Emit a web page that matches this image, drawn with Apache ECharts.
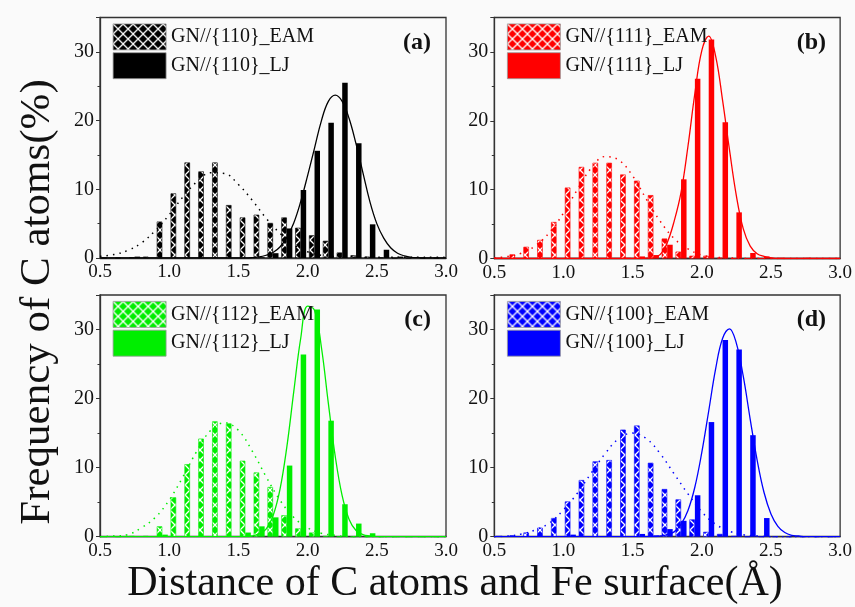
<!DOCTYPE html>
<html>
<head>
<meta charset="utf-8">
<script src="https://cdn.jsdelivr.net/npm/echarts@6/dist/echarts.min.js"></script>
<style>
html, body { margin: 0; padding: 0; background: #fafafa; }
#main { width: 855px; height: 607px; }
</style>
</head>
<body>
<div id="main"></div>
<script>
// histogram bins (centres, bin width 0.1)
var binCenters = [0.55, 0.65, 0.75, 0.85, 0.95, 1.05, 1.15, 1.25, 1.35, 1.45, 1.55, 1.65, 1.75,
                  1.85, 1.95, 2.05, 2.15, 2.25, 2.35, 2.45, 2.55, 2.65, 2.75, 2.85, 2.95];

var eam110 = [0, 0, 0.1, 0.2, 5.3, 9.4, 13.9, 12.6, 13.9, 7.7, 5.9, 6.3, 5.1, 5.9, 4.4, 3.3, 2.5, 0.8, 0.4, 0.2, 0.1, 0, 0, 0, 0];
var lj110  = [0, 0, 0.2, 0, 0, 0, 0, 0, 0, 0, 0, 0.1, 0.7, 4.3, 9.9, 15.6, 19.7, 25.5, 16.7, 4.9, 1.2, 0.2, 0.1, 0, 0];
var eam111 = [0.1, 0.6, 1.7, 2.7, 5.3, 10.3, 13.3, 13.9, 13.9, 12.2, 11.3, 9.2, 2.9, 1.0, 0.4, 0.4, 0.1, 0, 0, 0, 0, 0, 0, 0, 0];
var lj111  = [0, 0, 0, 0, 0, 0, 0, 0, 0, 0.1, 0.3, 0.5, 2.0, 11.5, 26.1, 31.8, 19.8, 6.7, 0.8, 0.3, 0.1, 0, 0.1, 0, 0];
var eam112 = [0, 0, 0.1, 0.1, 1.5, 5.7, 10.5, 14.2, 16.7, 16.4, 11.0, 9.3, 7.2, 3.1, 1.2, 0.6, 0.1, 0, 0, 0, 0, 0, 0, 0, 0];
var lj112  = [0, 0, 0, 0, 0.3, 0, 0, 0, 0, 0, 0.6, 1.5, 2.8, 10.3, 26.4, 32.9, 16.8, 4.7, 1.9, 0.5, 0.1, 0, 0, 0, 0];
var eam100 = [0.1, 0.2, 0.6, 1.3, 2.7, 5.1, 8.2, 10.9, 11.1, 15.5, 16.1, 10.7, 6.9, 5.4, 2.5, 0.7, 0.4, 0.1, 0, 0, 0, 0, 0, 0, 0];
var lj100  = [0, 0, 0, 0, 0, 0.3, 0, 0, 0, 0, 0.4, 0.2, 1.1, 2.3, 6.0, 16.6, 28.5, 27.1, 14.7, 2.7, 0, 0, 0, 0, 0];

// fitted curves
var eamFitX = [0.5, 0.6, 0.7, 0.8, 0.9, 1.0, 1.1, 1.2, 1.3, 1.4, 1.5, 1.6, 1.7, 1.8, 1.9, 2.0, 2.1, 2.2, 2.3, 2.4, 2.5, 2.6, 2.7, 2.8, 2.9, 3.0];
var eamFit110 = [0.25, 0.5, 1.1, 2.2, 4.0, 6.3, 8.9, 11.1, 12.4, 12.3, 10.7, 8.4, 5.8, 3.6, 1.9, 0.9, 0.4, 0.2, 0.1, 0.1, 0.1, 0.1, 0.1, 0.1, 0.1, 0.1];
var eamFit111 = [0.1, 0.3, 0.8, 1.9, 3.8, 6.6, 10.0, 13.1, 14.8, 14.3, 12.0, 8.6, 5.4, 2.9, 1.4, 0.5, 0.2, 0.1, 0, 0, 0, 0, 0, 0, 0, 0];
var eamFit112 = [0, 0.1, 0.3, 1.3, 2.8, 5.3, 8.7, 12.4, 15.4, 16.5, 15.4, 12.4, 8.7, 5.3, 2.8, 1.3, 0.5, 0.2, 0, 0, 0, 0, 0, 0, 0, 0];
var eamFit100 = [0, 0.1, 0.4, 1.0, 2.0, 3.9, 6.3, 9.2, 12.0, 14.2, 15.0, 14.2, 12.0, 9.1, 6.2, 3.6, 1.8, 0.8, 0.3, 0.1, 0, 0, 0, 0, 0, 0];

var ljFitX = [0.5, 1.0, 1.5, 1.55, 1.6, 1.65, 1.7, 1.75, 1.8, 1.85, 1.9, 1.95, 2.0, 2.05, 2.1, 2.15, 2.2,
              2.25, 2.3, 2.35, 2.4, 2.45, 2.5, 2.55, 2.6, 2.65, 2.7, 2.75, 2.8, 2.85, 2.9, 2.95, 3.0];
var ljFit110 = [0, 0, 0, 0, 0.05, 0.15, 0.4, 0.8, 1.6, 3.0, 5.1, 8.2, 12.0, 16.0, 20.0, 22.8, 23.7, 22.8, 20.3, 16.6, 12.4, 8.2, 5.0, 2.9, 1.5, 0.7, 0.3, 0.1, 0.05, 0, 0, 0, 0];
var ljFit111 = [0, 0, 0, 0, 0.05, 0.1, 0.6, 2.3, 5.4, 9.6, 16.3, 24.0, 30.2, 32.3, 29.4, 23.0, 15.8, 9.1, 4.3, 1.8, 0.7, 0.3, 0.1, 0, 0, 0, 0, 0, 0, 0, 0, 0, 0];
var ljFit112 = [0, 0, 0, 0, 0.1, 0.4, 1.1, 3.0, 6.8, 13.0, 21.0, 28.7, 33.4, 32.8, 27.4, 19.3, 11.6, 5.9, 2.5, 0.9, 0.3, 0.1, 0, 0, 0, 0, 0, 0, 0, 0, 0, 0, 0];
var ljFit100 = [0, 0, 0, 0, 0, 0, 0.1, 0.3, 0.7, 1.8, 3.8, 7.2, 12.2, 18.2, 24.3, 28.7, 30.1, 28.0, 23.2, 17.0, 11.1, 6.4, 3.3, 1.5, 0.6, 0.2, 0.1, 0, 0, 0, 0, 0, 0];

var xTicks = [0.5, 1.0, 1.5, 2.0, 2.5, 3.0];
var yTicks = [0, 10, 20, 30];
var yMax = 35;

var panelLabels = ['(a)', '(b)', '(c)', '(d)'];
var facets = ['{110}', '{111}', '{112}', '{100}'];
var eamData = [eam110, eam111, eam112, eam100];
var ljData = [lj110, lj111, lj112, lj100];
var eamFits = [eamFit110, eamFit111, eamFit112, eamFit100];
var ljFits = [ljFit110, ljFit111, ljFit112, ljFit100];
var colors = ['#000000', '#ff0000', '#00ee00', '#0000ff'];

var font = 'Liberation Serif';

// panel boxes: left, top, width, height
var boxes = [
    [100, 17.5, 346, 240.5],
    [494.3, 17.5, 346.7, 241],
    [100, 295, 346, 241.7],
    [494.3, 295, 346.7, 241.7]
];

function hatch(color) {
    var c = document.createElement('canvas');
    c.width = 10;
    c.height = 10;
    var ctx = c.getContext('2d');
    ctx.fillStyle = color;
    ctx.fillRect(0, 0, 10, 10);
    ctx.strokeStyle = '#ffffff';
    ctx.lineWidth = 1.3;
    ctx.beginPath();
    ctx.moveTo(-1, -1); ctx.lineTo(11, 11);
    ctx.moveTo(11, -1); ctx.lineTo(-1, 11);
    ctx.stroke();
    return { image: c, repeat: 'repeat' };
}

function pairs(xs, ys) {
    var res = [];
    for (var i = 0; i < xs.length; i++) res.push([xs[i], ys[i]]);
    return res;
}

var grids = [], xAxes = [], yAxes = [], series = [], legends = [], titles = [];

for (var i = 0; i < 4; i++) {
    var b = boxes[i];
    var col = colors[i];
    var eamName = 'GN//' + facets[i] + '_EAM';
    var ljName = 'GN//' + facets[i] + '_LJ';

    grids.push({
        left: b[0], top: b[1], width: b[2], height: b[3],
        show: true, borderColor: '#333', borderWidth: 1.3, backgroundColor: 'transparent'
    });
    xAxes.push({
        type: 'value', gridIndex: i,
        min: xTicks[0], max: xTicks[xTicks.length - 1], interval: 0.5,
        axisLine: { lineStyle: { color: '#333', width: 1.3 } },
        axisTick: { show: false },
        splitLine: { show: false },
        axisLabel: {
            margin: 5, color: '#111', fontFamily: font, fontSize: 19,
            formatter: function (v) { return v.toFixed(1); }
        }
    });
    yAxes.push({
        type: 'value', gridIndex: i,
        min: yTicks[0], max: yMax, interval: 10,
        axisLine: { lineStyle: { color: '#333', width: 1.3 } },
        axisTick: { show: true, inside: false, length: 4, lineStyle: { color: '#333' } },
        minorTick: { show: true, splitNumber: 2, length: 2.5, lineStyle: { color: '#333' } },
        splitLine: { show: false },
        axisLabel: {
            margin: 6, color: '#111', fontFamily: font, fontSize: 20, showMaxLabel: false
        }
    });

    series.push({
        name: eamName, type: 'bar', xAxisIndex: i, yAxisIndex: i,
        barWidth: 5.5, barGap: '0%',
        itemStyle: { color: hatch(col), borderColor: col, borderWidth: 0.6 },
        data: pairs(binCenters, eamData[i])
    });
    series.push({
        name: ljName, type: 'bar', xAxisIndex: i, yAxisIndex: i,
        barWidth: 5.5, barGap: '0%',
        itemStyle: { color: col },
        data: pairs(binCenters, ljData[i])
    });
    series.push({
        name: 'eamFit' + i, type: 'line', xAxisIndex: i, yAxisIndex: i,
        smooth: 0.4, symbol: 'none', z: 3,
        lineStyle: { color: col, width: 1.5, type: [1.5, 5], cap: 'butt' },
        data: pairs(eamFitX, eamFits[i])
    });
    series.push({
        name: 'ljFit' + i, type: 'line', xAxisIndex: i, yAxisIndex: i,
        smooth: 0.4, symbol: 'none', z: 3,
        lineStyle: { color: col, width: 1.3 },
        data: pairs(ljFitX, ljFits[i])
    });

    legends.push({
        data: [eamName, ljName],
        orient: 'vertical',
        left: b[0] + 12.7, top: b[1] + 6,
        padding: 0,
        itemWidth: 53, itemHeight: 26, itemGap: 2,
        icon: 'rect',
        selectedMode: false,
        itemStyle: { borderColor: '#999', borderWidth: 0.8 },
        textStyle: { fontFamily: font, fontSize: 20, color: '#111', padding: [0, 0, 0, 0] }
    });

    titles.push({
        text: panelLabels[i],
        right: 855 - (b[0] + b[2] - 15), top: b[1] + 13,
        padding: 0,
        textStyle: { fontFamily: font, fontSize: 24, fontWeight: 'bold', color: '#111' }
    });
}

var chartDom = document.getElementById('main');
var myChart = echarts.init(chartDom, null, { renderer: 'canvas' });

var option = {
    backgroundColor: '#fafafa',
    animation: false,
    title: titles,
    legend: legends,
    grid: grids,
    xAxis: xAxes,
    yAxis: yAxes,
    series: series,
    graphic: [
        {
            type: 'text', x: 38, y: 302, rotation: Math.PI / 2,
            style: {
                text: 'Frequency of C atoms(%)', fill: '#111',
                font: '43px "Liberation Serif"', align: 'center', verticalAlign: 'middle'
            }
        },
        {
            type: 'text', x: 455, y: 584,
            style: {
                text: 'Distance of C atoms and Fe surface(Å)', fill: '#111',
                font: '42px "Liberation Serif"', align: 'center', verticalAlign: 'middle'
            }
        }
    ]
};

myChart.setOption(option);
</script>
</body>
</html>
